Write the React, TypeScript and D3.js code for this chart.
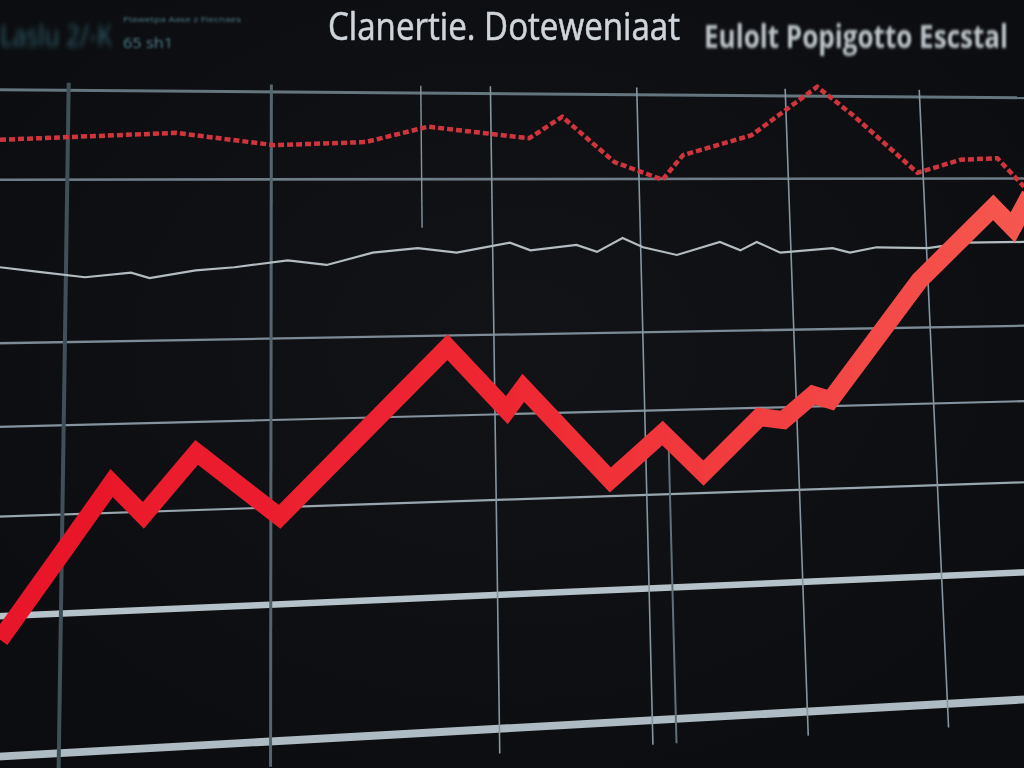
import React from 'react';
import * as d3 from 'd3';

// values, x and y both on a 0..100 scale
const mainX = [0, 5.9, 10.9, 14.0, 19.2, 27.3, 43.7, 49.5, 51.1, 59.6, 64.7, 68.7, 74.2, 76.5, 79.4, 81.1, 89.8, 97.0, 98.9, 100.6];
const mainY = [16.7, 27.7, 37.1, 32.9, 41.1, 32.7, 54.8, 46.6, 49.5, 37.5, 43.6, 38.4, 45.7, 45.3, 48.6, 47.9, 63.5, 73.0, 70.4, 74.6];

const dashedX = [0, 17.2, 26.8, 35.7, 41.8, 51.7, 54.9, 60.0, 64.7, 66.7, 73.4, 79.8, 83.3, 89.6, 93.8, 97.4, 100];
const dashedY = [81.8, 82.7, 81.1, 81.5, 83.5, 82.0, 84.8, 78.9, 76.6, 79.8, 82.4, 88.7, 85.0, 77.5, 79.2, 79.4, 75.7];

const greyX = [0, 3.8, 8.3, 12.8, 14.6, 19.1, 22.9, 28.1, 31.9, 36.4, 40.8, 44.6, 49.8, 51.8, 56.3, 58.3, 60.8, 62.8, 66.1, 70.3, 72.3, 73.9, 76.2, 81.3, 83.0, 85.6, 90.6, 94.4, 100];
const greyY = [65.2, 64.6, 63.9, 64.5, 63.8, 64.8, 65.2, 66.1, 65.5, 67.1, 67.7, 67.1, 68.4, 67.4, 68.1, 67.2, 69.0, 67.8, 66.8, 68.5, 67.4, 68.5, 67.1, 67.7, 67.1, 67.8, 67.7, 68.4, 68.5];

// grid positions
const hTicks = [88.3, 76.6, 55.3, 44.4, 32.7, 19.7, 1.4];
const vTicks = [6.7, 26.5, 47.9, 62.2, 76.7, 89.8];
const upperOnlyTicks = [41.1];
const lowerOnlyTicks = [64.4];

const titleMain = 'Clanertie. Doteweniaat';
const titleRight = 'Eulolt Popigotto Escstal';
const leftBig = 'Laslu 2/-K';
const leftSmall = 'Plawetpa Aase z Fiecnaes';
const leftSub = '65 sh1';

const W = 1024;
const H = 768;

// mild perspective of the screen in the photo
const warp = (px: number, py: number): [number, number] => [
    px + ((py - 90) / 678) * (-13 + 0.045 * px),
    py + (px / 1024) * (16.9 - 0.101 * py),
];

const App: React.FC = () => {
    const x = d3.scaleLinear().domain([0, 100]).range([0, W]);
    const y = d3.scaleLinear().domain([0, 100]).range([H, 0]);

    const line = d3.line<[number, number]>()
        .x(d => x(d[0]))
        .y(d => y(d[1]));

    const mainPts = mainX.map((v, i) => [v, mainY[i]] as [number, number]);
    const dashedPts = dashedX.map((v, i) => [v, dashedY[i]] as [number, number]);
    const greyPts = greyX.map((v, i) => [v, greyY[i]] as [number, number]);

    const hWidth = d3.scaleLinear().domain([90, 70, 33, 20, 0]).range([3, 2.5, 2, 6.5, 8]).clamp(true);
    const hColor = d3.scaleLinear<string>().domain([90, 40, 20, 0]).range(['#64737c', '#8796a0', '#b6c2c9', '#aebbc2']).clamp(true);

    const seg = (x0: number, y0: number, x1: number, y1: number) => {
        const a = warp(x(x0), y(y0));
        const b = warp(x(x1), y(y1));
        return `M${a[0]},${a[1]}L${b[0]},${b[1]}`;
    };

    return (
        <svg width={W} height={H} style={{ position: 'fixed', left: 0, top: 0, display: 'block' }}>
            <defs>
                <radialGradient id="bg" cx="50%" cy="45%" r="75%">
                    <stop offset="0%" stopColor="#121317" />
                    <stop offset="100%" stopColor="#0b0c0f" />
                </radialGradient>
                <linearGradient id="redGrad" x1="0" x2={W} y1="0" y2="0" gradientUnits="userSpaceOnUse">
                    <stop offset="0%" stopColor="#e8152a" />
                    <stop offset="50%" stopColor="#ee2833" />
                    <stop offset="100%" stopColor="#f5574f" />
                </linearGradient>
                <filter id="soft"><feGaussianBlur stdDeviation="0.6" /></filter>
                <filter id="blur1"><feGaussianBlur stdDeviation="1.2" /></filter>
                <filter id="blur2"><feGaussianBlur stdDeviation="2.2" /></filter>
            </defs>
            <rect width={W} height={H} fill="url(#bg)" />

            {/* header texts */}
            <text transform="translate(0,46) scale(1,1.35)" fontSize={21} fill="#2f5e6b" fontFamily="'Open Sans', sans-serif"
                textLength={112} lengthAdjust="spacingAndGlyphs" filter="url(#blur2)">{leftBig}</text>
            <text x={123} y={22} fontSize={8} fill="#4f7f8b" fontFamily="'Open Sans', sans-serif"
                textLength={118} lengthAdjust="spacingAndGlyphs" filter="url(#blur1)">{leftSmall}</text>
            <text x={123} y={48} fontSize={14} fill="#4f7f8b" fontFamily="'Open Sans', sans-serif"
                textLength={50} lengthAdjust="spacingAndGlyphs" filter="url(#blur1)">{leftSub}</text>
            <text x={328} y={40} fontSize={38} fill="#cfd5da" fontFamily="'Open Sans', sans-serif"
                stroke="#cfd5da" strokeWidth={0.6}
                textLength={352} lengthAdjust="spacingAndGlyphs" filter="url(#soft)">{titleMain}</text>
            <text transform="translate(704,48) scale(1,1.5)" fontSize={21} fontWeight="bold" fill="#bcc4c9" fontFamily="'Open Sans', sans-serif"
                textLength={304} lengthAdjust="spacingAndGlyphs" filter="url(#blur1)">{titleRight}</text>

            {/* grid */}
            <g filter="url(#soft)" fill="none">
                {hTicks.map(t => (
                    <path key={'h' + t} d={seg(-2, t, 102, t)} stroke={hColor(t)} strokeWidth={hWidth(t)} />
                ))}
                {vTicks.map((t, i) => (
                    <path key={'v' + t} d={seg(t, 89.3, t, -2)}
                        stroke={i === 0 ? '#3f5059' : i === 1 ? '#55656e' : '#8595a0'}
                        strokeWidth={i === 0 ? 4 : i === 1 ? 3 : 1.6} />
                ))}
                {upperOnlyTicks.map(t => (
                    <path key={'u' + t} d={seg(t, 89.3, t, 70)} stroke="#8595a0" strokeWidth={1.4} />
                ))}
                {lowerOnlyTicks.map(t => (
                    <path key={'l' + t} d={seg(t, 38.8, t, -2)} stroke="#5f6f78" strokeWidth={2} />
                ))}
            </g>

            {/* series */}
            <path d={line(greyPts) ?? ''} fill="none" stroke="#b3bcc1" strokeWidth={2.2} strokeLinejoin="miter" filter="url(#soft)" />
            <path d={line(dashedPts) ?? ''} fill="none" stroke="#d0343c" strokeWidth={4.5} strokeDasharray="6 3" filter="url(#soft)" />
            <path d={line(mainPts) ?? ''} fill="none" stroke="url(#redGrad)" strokeWidth={18} strokeLinejoin="miter" filter="url(#soft)" />
        </svg>
    );
};

export default App;
